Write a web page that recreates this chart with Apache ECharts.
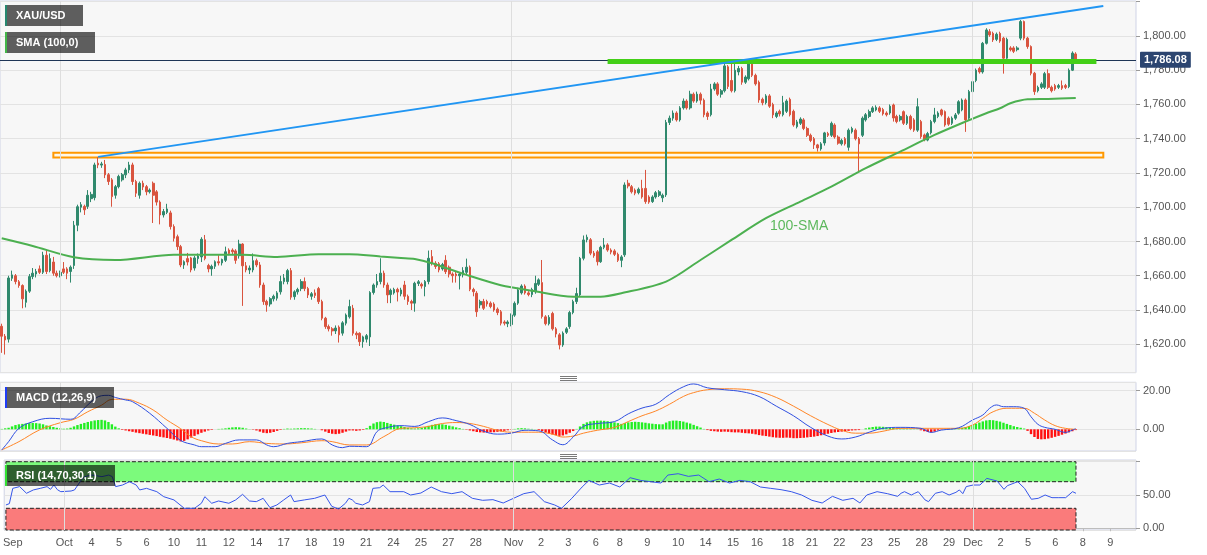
<!DOCTYPE html>
<html><head><meta charset="utf-8">
<script src="https://cdn.jsdelivr.net/npm/echarts@6/dist/echarts.min.js"></script>
<style>html,body{margin:0;padding:0;background:#fff;}#c{width:1207px;height:555px;}</style>
</head><body><div id="c"></div>
<script>
// ---- Data ----
// candles: [open, close, low, high]
const candlesSep = [
[1630.5,1624.7,1615,1632],[1624.7,1622.5,1614,1626],[1623,1658.7,1621,1660],[1658.5,1660.5,1657,1663],[1660,1656.6,1655,1661],
[1656.5,1654.3,1653,1657.5],[1654.3,1646.5,1641,1655],[1644.5,1651,1641.5,1652],[1651,1659.5,1650,1661],[1659.5,1661.5,1658,1664.5],
[1661,1662.5,1659,1664],[1664,1662,1661,1666],[1662,1672,1661,1674],[1672,1662.5,1661,1675],[1663,1670,1662,1673],
[1668,1661.5,1660,1671],[1661.5,1660,1659,1663]
];
const candlesOct = [
[1660,1662,1659,1663],[1664,1662,1661,1668],[1664,1661.5,1658,1665],[1662.5,1665,1656,1666],[1666,1689.5,1664,1692],
[1689.5,1700.3,1686,1701.5],[1700,1701.5,1697,1703],[1700.5,1698.5,1695.5,1701.5],[1700.5,1707,1699,1710],[1705,1707.5,1703,1709],
[1705.6,1724.7,1704,1726],[1725.7,1724.7,1722.8,1729.2],[1724.6,1725.3,1723,1726.5],[1725,1718.9,1717,1727.6],[1719,1715,1713,1720],
[1716,1706.2,1700.3,1717],[1707,1712,1705,1713],[1712,1718,1711,1719],[1716,1719,1715,1720],[1718.9,1721.8,1717,1723],
[1721.8,1724.7,1720,1726.5],[1724.7,1715,1713,1726],[1715,1708.2,1706,1716],[1707,1714,1705,1715],[1714,1711.8,1710,1715.5],
[1712,1709,1707,1713],[1709,1710,1708,1711],[1714,1707,1690.8,1715],[1709,1703,1701,1710],[1703,1695.5,1690,1704],
[1695.5,1697.5,1694,1699],[1697,1699,1696,1702],[1696.7,1688.7,1687,1698],[1688.7,1681.9,1680,1690],[1682.8,1677,1675,1684],
[1677,1666.3,1665,1678],[1666.3,1668.2,1664,1669],[1670,1668,1666,1673.3],[1670.4,1663.4,1662,1671],[1664.5,1670.4,1663,1671.5],
[1670,1671.5,1667,1673],[1671,1681.3,1668,1682.5],[1681,1670,1669,1683.8],[1666,1664,1662,1667],[1664,1665.5,1660,1666.5],
[1665.5,1668.2,1664,1669],[1668.2,1667.5,1666,1672],[1667.5,1669.5,1666,1670],[1669,1674,1668,1677],[1675,1673,1672,1676],
[1675,1674,1672,1676],[1674.5,1669,1667,1675.5],[1671.7,1678.5,1670,1681],[1678.5,1665.8,1642.4,1679],[1665.8,1663.4,1662,1668],
[1663.4,1664.5,1661,1666],[1663.4,1668.8,1662,1673],[1668.8,1666.3,1665,1670],[1666.3,1654.6,1653,1668],[1654.6,1644.9,1643,1656],
[1645,1643,1639,1646],[1643.5,1646.6,1642,1647.5],[1646.5,1648,1645,1649],[1646.9,1650,1645.5,1651],[1650.6,1656.6,1649,1660],
[1656.6,1658.7,1655,1661],[1656.6,1663,1655,1664],[1663,1647.5,1646,1664.5],[1647.8,1650.6,1646,1651.5],[1650.6,1652,1649,1653],
[1652.5,1656.6,1651,1658],[1656.6,1652.5,1651,1659],[1652.5,1648.8,1647,1653.5],[1648,1649.5,1646,1650.5],[1650,1648.5,1647,1652],
[1652.5,1644.9,1643.5,1653.5],[1644.9,1635.2,1634,1646],[1635.2,1630.3,1629,1636],[1630.3,1629,1627.5,1631.5],[1629,1627.8,1625,1630],
[1627.8,1629.5,1626,1631],[1630,1625.5,1621,1631],[1626.5,1632.5,1625,1633.5],[1632.3,1637.1,1631,1638],[1636,1642,1635,1646],
[1641,1626.4,1625,1643],[1626.4,1625.5,1623,1627.5],[1626.4,1621.5,1619,1627],[1621.5,1624.3,1618,1625],[1623,1625,1621,1626],
[1624.3,1650.2,1619,1651],[1650.2,1654.6,1649,1655.5],[1654.6,1656.6,1653,1661],[1656.6,1661.5,1655,1670.2],[1661.5,1654.6,1653,1663],
[1654.6,1648.8,1644,1656],[1649,1651.5,1644,1652.5],[1650,1652,1649,1653],[1652,1650.5,1645,1653],[1649.4,1651.7,1648,1653],
[1654.6,1648,1646,1657],[1648,1645,1643,1649],[1645,1644,1640,1646],[1644,1655.6,1639,1656.5],[1655.5,1656.5,1654,1657.5],
[1655,1654,1652.5,1656],[1653.7,1656.6,1648,1657.5],[1656.6,1670.2,1655,1674.7],[1671.2,1667.3,1666,1675],[1667.3,1665.4,1664,1668.5],
[1667,1663.4,1662,1668],[1664,1666.5,1663,1667.5],[1669,1662.4,1661,1672],[1665,1661,1659,1666],[1661,1660,1656,1662],
[1661,1660,1656,1662.5],[1660,1661,1652,1662],[1660.5,1663,1659,1665],[1662,1665,1661,1670],[1665,1652.1,1651,1666],
[1652,1650.7,1648,1653],[1649.8,1639,1636,1651],[1643,1645,1641,1646],[1645,1641,1640,1646.5],[1645,1643.5,1642,1646],
[1644,1642,1641,1645],[1643.5,1640,1639,1644.5],[1640.5,1638.5,1637,1641.5],[1639,1632.3,1631,1640],[1633,1632.3,1631,1634],
[1632,1633,1630,1634]
];
const candlesNov = [
[1631.5,1637.1,1630.5,1638],[1637,1643.9,1636,1645],[1644,1651.7,1643,1653],[1650,1654,1649,1655],[1654,1650,1649,1655],
[1650,1649,1648,1651],[1649,1652,1647.5,1653],[1650.7,1655.5,1649.5,1660],[1655,1657.6,1654,1658.5],[1656,1636.2,1635,1669.2],
[1636,1632,1631,1637],[1632,1635.7,1631,1637],[1638,1629,1628,1639],[1629,1626,1624,1630],[1625.5,1619.6,1617,1626.5],
[1619.6,1626.5,1618.5,1627.5],[1627,1629,1626,1630],[1630.3,1638.5,1629,1639.5],[1638.5,1644.9,1637.5,1646],[1644.9,1649.6,1643.5,1653],
[1648.8,1670.2,1648,1671],[1670.2,1680.9,1669,1683.5],[1681,1682.5,1679.5,1684],[1681,1673.2,1672,1682],[1673.2,1671.7,1670.5,1674.5],
[1674,1668.2,1666,1675],[1668.2,1676.6,1667.5,1677.5],[1676.6,1678,1675.5,1682],[1678,1675,1674,1679],[1675,1673.8,1672.5,1676],
[1674.5,1672.5,1671.5,1675.5],[1672.5,1669,1668,1673.5],[1669,1671,1665,1672],[1672.2,1713,1671,1714.5],[1714,1712.4,1711,1716],
[1712,1709,1708,1713],[1710,1708.2,1707,1711],[1708.5,1710.5,1707.5,1711.5],[1711,1706,1705,1716],[1711,1703.3,1702,1721.8],
[1706,1703,1702,1707],[1703.3,1706,1702.5,1707],[1706,1708.5,1705,1709.5],[1707,1709,1706,1710],[1705.5,1707,1703,1708],
[1707.2,1749.5,1706,1751],[1749.5,1752,1748,1753.5],[1752,1755,1750.5,1756.5],[1755,1751,1750,1756],[1751,1758,1750,1759],
[1758,1762,1757,1763.5],[1762,1758,1757,1763],[1758,1766,1757,1768],[1766,1762,1761,1767],[1762,1766,1761,1767.5],
[1766,1762.5,1760,1767],[1762.5,1754,1752.5,1763.5],[1755,1753,1751,1756],[1754,1769,1753,1772],[1769,1772,1768,1773],
[1772,1766,1765,1773],[1766,1768,1764,1769],[1768,1782.5,1767,1786],[1782,1770.5,1769,1783],[1774,1768,1767,1785],
[1768,1780,1767,1786],[1779,1781,1777,1782.5],[1781,1773,1771.5,1782],[1773,1776,1772,1777],[1775,1784,1774,1786],
[1784,1777,1776,1785],[1777,1772,1771,1778],[1773,1762.6,1761,1774],[1763,1761,1759.5,1764],[1761,1765,1760,1766],
[1765,1759,1758,1766],[1760,1753.9,1752,1761],[1753,1755,1752,1756],[1756,1754.5,1753,1757],[1754,1761,1753,1765],
[1756,1762,1755,1763],[1763,1754,1753,1764],[1756,1748,1747,1757],[1747,1749.8,1746,1751],[1749,1751.5,1748,1752.5],
[1751,1746,1745,1752],[1746,1742,1741,1747],[1742,1739,1738,1743],[1740,1736.4,1734,1741],[1736.4,1734.6,1732.5,1737],
[1734,1737,1733,1738],[1737.5,1743.4,1736,1744],[1743,1742,1741,1744],[1742,1749,1741,1750],[1748,1741,1740,1749],
[1741,1737.4,1736.5,1742],[1737,1739,1736,1740],[1740,1737,1736,1741],[1735,1745,1733,1746],[1744,1746,1743,1747],
[1745,1740,1739,1746],[1740,1737,1720.8,1741],[1742,1752,1741,1753],[1751,1754,1750,1755],[1753,1755.8,1752,1757],
[1755.8,1758,1755,1759],[1756.8,1758.3,1756,1759.5],[1758,1756,1755,1759],[1757,1754.5,1753.5,1758],[1755,1754,1753,1756],
[1755,1759,1754,1760],[1759.7,1752.1,1750,1760.5],[1753,1750,1749,1754],[1751,1753,1750,1754],[1755.8,1749,1748,1756.5],
[1749,1753,1748,1754],[1753,1746,1745,1754],[1751,1745,1744,1752],[1745,1758.7,1744,1763.6],[1750,1741.2,1740,1751],
[1742.2,1739.7,1738.5,1743],[1739.2,1743,1738.5,1744],[1743.5,1750,1742.5,1751],[1750,1753.9,1749,1758],[1753,1755,1752,1756],
[1756.8,1754,1753,1757.5],[1755.8,1748,1747,1756.5],[1752,1748.5,1747.5,1753],[1749,1752,1748,1753],[1752,1753.9,1751,1755],
[1754.9,1761.6,1754,1762.5],[1756.8,1762.6,1756,1763.5],[1762.6,1751,1744,1763.5],[1752,1767.5,1751,1768.5]
];
const candlesDec = [
[1767.5,1773.3,1766.5,1774.5],[1774,1780,1773,1781],[1781,1779,1778,1782],[1779,1795.7,1778,1796.5],[1795.7,1803.5,1795,1804.5],
[1802.5,1800.6,1799.5,1804],[1801.5,1797.7,1796.5,1802.5],[1798,1801,1797,1802],[1801.5,1797,1796,1802.5],[1798.7,1787,1778,1799.5],
[1787,1798,1786,1799],[1793,1792,1791,1794],[1793,1791,1790,1794],[1792,1793,1791,1794],[1798.7,1808.4,1797.5,1809.3],
[1808.4,1798.7,1797.5,1809],[1798.7,1793.8,1792.5,1799.5],[1793.8,1778.2,1777,1794.5],[1778.2,1767.5,1765.6,1779],[1768,1770,1767,1771],
[1770,1772,1769,1773],[1770,1778,1769,1779],[1778,1770,1769,1780.5],[1770,1768,1767,1771],[1771,1769,1768,1772],
[1770,1771,1769,1772],[1771,1769.5,1768.5,1774],[1771,1770,1769,1772],[1770.4,1780,1769.5,1781],[1780,1790,1779.5,1791],
[1789.5,1786.08,1785.5,1790.5]
];
// 100-period SMA, [candle index, value]
const smaPoints = [[0,1681.9],[9,1677.4],[21,1670.8],[33,1669.2],[50,1672.2],[70,1672.2],[80,1671.0],[92,1672.6],[101,1672.6],[110,1671.2],[116,1670.4],[120,1669.8],[125,1667.3],[135,1660.5],[145,1654.5],[154,1651.3],[166,1647.8],[174,1647.8],[180,1649.8],[193,1656.6],[203,1669.2],[212,1680.9],[222,1693.6],[232,1703.3],[241,1712.0],[251,1722.8],[261,1732.5],[271,1742.2],[280,1750.0],[286,1754.9],[290,1757.8],[293,1760.7],[298,1763.0],[304,1763.2],[312,1763.8]];
// MACD line, signal line [index, value]; histogram per candle
const macdLine = [[0,-10.7],[2,-6.4],[5,0.5],[9,3.9],[14,5.7],[20,5.2],[23,9.1],[26,14.3],[29,17.4],[31,17.6],[33,16.5],[36,15.2],[38,14.3],[43,8.3],[48,0.5],[52,-5.8],[56,-8.1],[58,-9.0],[62,-9.0],[65,-7.3],[69,-5.5],[74,-5.5],[77,-8.1],[79,-9.0],[83,-7.3],[87,-6.4],[93,-5.0],[96,-8.1],[99,-9.5],[101,-8.8],[106,-9.0],[109,-1.2],[111,0.5],[116,1.9],[120,1.5],[124,4.0],[128,5.9],[132,4.5],[136,2.5],[140,-1.0],[144,-2.5],[148,-2.0],[152,-0.5],[156,-0.8],[160,-5.5],[163,-8.0],[166,-4.0],[169,1.5],[173,3.0],[178,4.0],[182,8.0],[186,11.0],[190,13.0],[194,18.0],[198,22.0],[201,23.5],[205,21.5],[210,20.5],[215,19.5],[220,17.0],[225,12.0],[230,7.0],[235,1.0],[240,-3.5],[244,-5.0],[248,-4.0],[252,-1.5],[256,0.5],[261,1.0],[267,0.5],[270,-1.6],[273,-0.4],[278,0.8],[282,4.8],[285,7.4],[287,10.9],[289,12.6],[291,11.7],[294,11.7],[297,10.9],[299,6.5],[301,2.6],[303,1.0],[306,0],[309,-1.6],[311,-0.4],[312,0.3]];
const signalLine = [[0,-10.7],[5,-6.4],[11,-0.3],[17,3.4],[21,5.2],[25,9.1],[29,12.5],[32,15.5],[36,15.6],[40,13.5],[44,10],[48,4.8],[52,0.3],[55,-3.8],[58,-5.9],[63,-7.6],[67,-7.6],[72,-6.4],[77,-7.3],[82,-7.6],[87,-7.0],[93,-5.9],[96,-6.4],[101,-8.1],[106,-8.1],[111,-3.8],[116,0.5],[120,0.8],[124,1.5],[128,3.0],[132,3.5],[136,3.0],[140,1.5],[144,-0.5],[148,-1.5],[152,-1.5],[156,-1.5],[160,-2.5],[163,-4.0],[166,-3.5],[169,-2.0],[173,-0.5],[178,1.0],[182,4.0],[186,7.0],[190,9.5],[194,13.0],[198,17.0],[201,19.0],[205,20.5],[210,21.0],[215,20.8],[220,19.5],[225,16.5],[230,12.0],[235,7.0],[240,2.5],[244,-0.5],[248,-2.0],[252,-2.0],[256,-1.0],[261,0.5],[278,0.5],[282,2.2],[285,5.7],[288,9.1],[292,10.9],[297,10.9],[300,8.3],[303,4.8],[306,1.9],[309,0.5],[312,0]];
const macdHist = [0.2,0.5,
0.8,1.5,2.2,2.6,2.8,3.0,3.2,3.3,3.2,3.0,2.6,
2.0,1.6,1.2,0.8,0.5,0.3,0.4,
0.8,1.5,2.2,2.8,3.3,3.8,4.2,4.6,4.8,4.9,4.6,3.8,2.6,1.4,0.5,
-0.3,-0.6,-1.0,-1.3,-1.7,-2.0,-2.3,-2.6,-2.9,-3.2,-3.5,-3.9,-4.2,-4.5,-4.9,-5.3,-5.8,-6.3,-6.0,-5.2,-4.3,-3.4,-2.6,-1.8,-1.2,
-0.6,-0.3,0,0.2,0.3,
0.5,0.8,1.0,1.1,1.0,0.8,0.4,0.1,
-0.2,-0.6,-1.2,-1.8,-2.0,-1.8,-1.4,-0.8,-0.3,
0.2,0.4,0.3,0.4,0.5,0.6,0.6,0.5,0.4,0.2,0,
-0.5,-1.2,-1.9,-2.3,-2.5,-2.3,-1.8,-1.2,
-0.6,-0.6,-0.8,-0.6,-0.3,
0.6,1.8,3.0,3.7,4.0,3.8,3.3,2.8,2.4,2.0,1.6,
1.2,0.8,0.5,0.4,0.5,0.8,
1.2,1.8,2.3,2.6,2.7,2.6,2.3,1.9,1.5,1.0,0.6,
0.2,-0.2,-0.6,-1.0,-1.4,-1.6,-1.7,-1.7,-1.6,-1.5,-1.3,-1.1,-0.8,
-0.5,-0.2,0.2,0.5,0.6,0.5,0.3,0.2,0.1,
-0.4,-1.0,-1.6,-2.2,-2.7,-3.1,-3.4,-3.2,-2.6,-1.8,-0.9,
0.2,1.5,2.8,3.6,4.1,4.4,4.5,4.5,4.4,4.2,3.9,3.6,3.2,2.8,3.2,3.6,3.8,3.9,3.8,3.6,3.4,3.1,2.9,2.7,
2.6,2.6,3.5,4.2,4.5,4.5,4.3,4.0,3.5,3.0,2.3,1.6,0.9,
0.2,-0.4,-0.8,-1.0,-1.2,-1.3,-1.2,-1.3,-1.5,-1.6,-1.6,-1.8,-2.0,-2.1,-2.3,-2.6,-3.0,-3.3,-3.5,-3.8,-4.1,-4.3,-4.4,-4.4,-4.3,-4.4,-4.6,-4.6,-4.5,-4.4,-4.2,-4.0,-3.8,-3.5,-3.1,-2.7,-2.3,-1.9,-1.6,-1.4,-1.2,
-1.0,-0.8,-0.6,-0.5,-0.4,0,0.5,0.9,1.2,1.4,1.4,1.3,
1.1,0.9,0.7,0.5,0.4,0.3,0.3,0.2,0.1,0.1,
-0.5,-1.0,-1.4,-1.6,-1.2,-0.6,
-0.2,0.1,0.2,0.2,0.3,0.4,
0.8,1.2,1.7,2.3,2.9,3.5,4.1,4.6,4.8,4.7,4.4,4.0,3.4,2.8,2.2,1.6,1.2,
0.8,0.4,
-0.8,-2.5,-4.0,-5.0,-5.2,-5.1,-4.8,-4.4,-3.9,-3.4,-2.8,-2.2,-1.6,-1.0,-0.4];
// RSI(14) [index, value]
const rsiPoints = [[0,35],[1,37],[2,60],[4,62.6],[6,52.6],[8,57.6],[10,60],[12,62.6],[13,58.5],[14,65],[15,58],[16,55],[19,56],[20,57.6],[22,72.6],[23,77.6],[25,80],[28,77.6],[30,80],[31,77.6],[32,62.6],[34,65],[36,70],[38,65],[39,57.6],[41,60],[44,55],[46,47.5],[49,42.6],[52,30],[55,30],[57,37.6],[58,47.5],[60,37.6],[62,41],[65,37.6],[67,42.6],[69,51],[71,41],[73,40],[75,45],[77,31],[79,35],[81,42.6],[83,50],[84,40],[87,42.6],[90,45],[93,50],[95,33],[97,29],[99,37.6],[100,45],[101,42.6],[102,37.6],[104,35],[106,40],[107,60],[109,61],[110,65],[112,55],[116,55],[118,50],[121,53],[124,62],[127,55],[130,52],[133,55],[136,45],[139,42],[142,43],[145,38],[148,45],[151,52],[154,55],[157,40],[160,35],[162,30],[165,45],[168,62],[170,72],[173,65],[176,68],[179,62],[182,76],[185,72],[188,70],[191,68],[193,80],[196,82],[199,78],[202,80],[205,70],[208,74],[211,68],[214,72],[217,70],[220,62],[223,60],[226,58],[229,55],[232,50],[235,42],[238,38],[241,48],[244,42],[247,45],[249,38],[251,50],[254,55],[257,52],[260,48],[261,52.6],[262,55],[264,50],[265,52.6],[266,55],[268,42.6],[269,40],[271,52.6],[273,55],[275,50],[277,54],[278,57.6],[279,52],[280,62.6],[282,65],[284,65],[286,75],[289,71],[291,58.5],[292,64],[295,70],[297,60],[299,43.6],[301,45],[303,50],[305,46],[307,46],[309,46],[311,55],[312,52.6]];
// x-axis tick labels [slot index, text]
const tickLabels = [[2,'Sep'],[17,'Oct'],[25,'4'],[33,'5'],[41,'6'],[49,'10'],[57,'11'],[65,'12'],[73,'14'],[81,'17'],[89,'18'],[97,'19'],[105,'21'],[113,'24'],[121,'25'],[129,'27'],[137,'28'],[148,'Nov'],[156,'2'],[164,'3'],[172,'6'],[179,'8'],[187,'9'],[196,'10'],[204,'14'],[212,'15'],[219,'16'],[228,'18'],[235,'21'],[243,'22'],[251,'23'],[259,'25'],[267,'28'],[275,'29'],[282,'Dec'],[290,'2'],[298,'5'],[306,'6'],[314,'8'],[322,'9']];
const monthStarts = [17, 148, 282];
// drawn levels
const trendLine = [[28, 1729.4], [320, 1817.5]];
const resistance = [[176, 1785.4], [318, 1785.4]];
const supportZone = [[15, 1731.8], [320, 1729.0]];
const rsiBands = [[100, 70], [30, -2.6]];

// ---- Chart ----
const ohlc = [].concat(candlesSep, candlesOct, candlesNov, candlesDec);
const SLOTS = 330;
const cats = Array.from({length: SLOTS}, (_, i) => String(i));
const labelMap = {}; tickLabels.forEach(([i, t]) => { labelMap[i] = t; });
const fmt2 = v => Number(v).toLocaleString('en-US', {minimumFractionDigits: 2, maximumFractionDigits: 2});
const FONT = '"Liberation Sans", Arial, sans-serif';
const lastClose = ohlc[ohlc.length - 1][1];

const xHidden = gi => ({type: 'category', gridIndex: gi, data: cats, boundaryGap: true,
  axisLine: {show: false}, axisTick: {show: false}, axisLabel: {show: false}, splitLine: {show: false}});
const yAx = (gi, min, max, split, fmt) => ({type: 'value', gridIndex: gi, position: 'right', min: min, max: max, splitNumber: split,
  axisLine: {show: false}, axisTick: {show: true, length: 4, lineStyle: {color: '#9a9a9a'}},
  axisLabel: {color: '#555', fontSize: 11, fontFamily: FONT, margin: 7, showMinLabel: false, showMaxLabel: false, formatter: fmt},
  splitLine: {show: true, lineStyle: {color: '#e3e3e3', width: 1}}});

const monthSeries = gi => ({type: 'line', xAxisIndex: gi, yAxisIndex: gi, data: [], z: 1, silent: true,
  markLine: {silent: true, symbol: ['none', 'none'], animation: false, label: {show: false},
    lineStyle: {color: '#dedede', type: 'solid', width: 1},
    data: monthStarts.map(i => ({xAxis: String(i)}))}});

const labelBox = (x, y, w, text, bar) => [
  {type: 'rect', shape: {x: x, y: y, width: w, height: 21}, style: {fill: 'rgba(0,0,0,0.62)'}, z: 100, silent: true},
  {type: 'rect', shape: {x: x, y: y, width: 2, height: 21}, style: {fill: bar}, z: 101, silent: true},
  {type: 'text', x: x + 11, y: y + 10.5, style: {text: text, fill: '#fff', font: 'bold 11px ' + FONT, verticalAlign: 'middle'}, z: 101, silent: true}
];
const splitter = cy => [-2, 0, 2].map(d => ({type: 'line', shape: {x1: 560, y1: cy + d + 0.5, x2: 577, y2: cy + d + 0.5}, style: {stroke: '#7a7a7a', lineWidth: 1}, silent: true}));

const option = {
  animation: false,
  backgroundColor: '#ffffff',
  grid: [
    {left: 0, top: 1, width: 1136, height: 371.7, show: true, backgroundColor: '#f7f7f7', borderColor: '#cfd3e6', borderWidth: 1},
    {left: 0, top: 382.3, width: 1136, height: 68.7, show: true, backgroundColor: '#f7f7f7', borderColor: '#cfd3e6', borderWidth: 1},
    {left: 0, top: 460, width: 1136, height: 70, show: true, backgroundColor: '#f7f7f7', borderColor: '#cfd3e6', borderWidth: 1}
  ],
  xAxis: [xHidden(0), xHidden(1), {
    type: 'category', gridIndex: 2, data: cats, boundaryGap: true,
    axisLine: {show: true, lineStyle: {color: '#bdbdbd'}},
    axisTick: {show: true, alignWithLabel: true, length: 3, interval: (i) => labelMap[i] !== undefined, lineStyle: {color: '#bdbdbd'}},
    axisLabel: {show: true, interval: (i) => labelMap[i] !== undefined, formatter: (v) => labelMap[+v] || '',
      color: '#555', fontSize: 11, fontFamily: FONT, margin: 7},
    splitLine: {show: false}
  }],
  yAxis: [
    yAx(0, 1603.4, 1820.4, 11, v => (v > 1810 ? '' : fmt2(v))),
    yAx(1, -11.24, 24.35, 2, v => fmt2(v)),
    yAx(2, -2.6, 102.6, 2, v => (v >= 100 ? '' : fmt2(v)))
  ],
  series: [
    monthSeries(0), monthSeries(1), monthSeries(2),
    {
      type: 'candlestick', name: 'XAU/USD', xAxisIndex: 0, yAxisIndex: 0, data: ohlc, barWidth: '62%', z: 2,
      itemStyle: {color: '#30896d', color0: '#d9543f', borderColor: '#30896d', borderColor0: '#d9543f', borderWidth: 1},
      markArea: {silent: true, data: [[
        {coord: [String(supportZone[0][0]), supportZone[0][1]], itemStyle: {color: 'rgba(255,248,230,0.7)', borderColor: '#ff9800', borderWidth: 2}},
        {coord: [String(supportZone[1][0]), supportZone[1][1]]}
      ]]},
      markLine: {silent: true, symbol: ['none', 'none'], animation: false, data: [
        {yAxis: lastClose, lineStyle: {color: '#1e3556', width: 1, type: 'solid'},
          label: {show: true, position: 'end', distance: 4, formatter: fmt2(lastClose), color: '#fff', backgroundColor: '#2c4570',
            fontWeight: 'bold', fontSize: 11, fontFamily: FONT, padding: [3, 4, 2, 4], borderRadius: 1}},
        [{coord: [String(resistance[0][0]), resistance[0][1]], lineStyle: {color: '#43cf17', width: 5, type: 'solid'}, label: {show: false}},
         {coord: [String(resistance[1][0]), resistance[1][1]], lineStyle: {color: '#43cf17', width: 5, type: 'solid'}, label: {show: false}}],
        [{coord: [String(trendLine[0][0]), trendLine[0][1]], lineStyle: {color: '#2196f3', width: 2, type: 'solid'}, label: {show: false}},
         {coord: [String(trendLine[1][0]), trendLine[1][1]], lineStyle: {color: '#2196f3', width: 2, type: 'solid'}, label: {show: false}}]
      ]}
    },
    {type: 'line', name: 'SMA', xAxisIndex: 0, yAxisIndex: 0, data: smaPoints, showSymbol: false, smooth: 0.3, z: 4,
      lineStyle: {color: '#4cb050', width: 2}},
    {type: 'bar', name: 'hist', xAxisIndex: 1, yAxisIndex: 1, barWidth: '70%', z: 2,
      data: macdHist.map(v => ({value: v, itemStyle: {color: v >= 0 ? '#22ee22' : '#ff1111'}}))},
    {type: 'line', name: 'MACD', xAxisIndex: 1, yAxisIndex: 1, data: macdLine, showSymbol: false, smooth: 0.4, z: 4,
      lineStyle: {color: '#2f4fe0', width: 1}},
    {type: 'line', name: 'Signal', xAxisIndex: 1, yAxisIndex: 1, data: signalLine, showSymbol: false, smooth: 0.4, z: 3,
      lineStyle: {color: '#ff8526', width: 1}},
    {type: 'line', name: 'bands', xAxisIndex: 2, yAxisIndex: 2, data: [], z: 1, silent: true,
      markArea: {silent: true, data: [
        [{coord: ['0', rsiBands[0][0]], itemStyle: {color: '#7cfa7c', borderColor: '#222', borderWidth: 1, borderType: [4, 2]}}, {coord: [String(ohlc.length - 1), rsiBands[0][1]]}],
        [{coord: ['0', rsiBands[1][0]], itemStyle: {color: '#fa7b7b', borderColor: '#222', borderWidth: 1, borderType: [4, 2]}}, {coord: [String(ohlc.length - 1), rsiBands[1][1]]}]
      ]}},
    {type: 'line', name: 'RSI', xAxisIndex: 2, yAxisIndex: 2, data: rsiPoints, showSymbol: false, z: 4,
      lineStyle: {color: '#3656ea', width: 1}}
  ],
  graphic: [].concat(
    labelBox(5, 5, 78, 'XAU/USD', '#26876f'),
    labelBox(5, 32, 90, 'SMA (100,0)', '#43b649'),
    labelBox(5, 387, 109, 'MACD (12,26,9)', '#1f3cf5'),
    labelBox(5, 465, 110, 'RSI (14,70,30,1)', '#33e033'),
    [{type: 'text', x: 770, y: 226, style: {text: '100-SMA', fill: '#5cb85c', font: '14px ' + FONT, verticalAlign: 'middle'}, z: 50, silent: true}],
    splitter(378), splitter(456)
  )
};
const chart = echarts.init(document.getElementById('c'), null, {renderer: 'canvas'});
chart.setOption(option);
</script>
</body></html>
